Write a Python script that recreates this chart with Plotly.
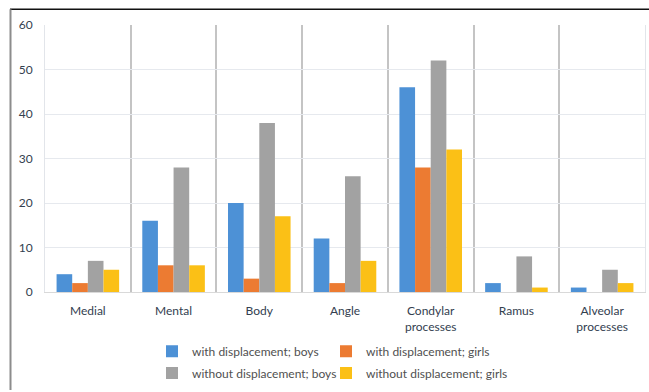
import plotly.graph_objects as go

# Fracture sites (x categories)
sites = ["Medial", "Mental", "Body", "Angle", "Condylar<br>processes", "Ramus", "Alveolar<br>processes"]

# Counts per group
with_disp_boys = [4, 16, 20, 12, 46, 2, 1]
with_disp_girls = [2, 6, 3, 2, 28, 0, 0]
without_disp_boys = [7, 28, 38, 26, 52, 8, 5]
without_disp_girls = [5, 6, 17, 7, 32, 1, 2]

y_ticks = [0, 10, 20, 30, 40, 50, 60]

series = [
    ("with displacement; boys", with_disp_boys, "#4d91d6"),
    ("with displacement; girls", with_disp_girls, "#ec7b32"),
    ("without displacement; boys", without_disp_boys, "#a2a2a2"),
    ("without displacement; girls", without_disp_girls, "#fbc016"),
]

FONT = "Lato"
TEXT = "#33404f"
LEGEND_TEXT = "#505050"

# Plot area geometry in pixels, used to place the outer frame and legends
W, H = 649, 392
ML, MR, MT, MB = 45, 4, 25, 97
pw, ph = W - ML - MR, H - MT - MB


def px_x(x):
    return (x - ML) / pw


def px_y(y):
    return (H - MB - y) / ph


# One legend per entry, laid out as a 2 x 2 grid below the axis
legend_ids = ["legend", "legend2", "legend3", "legend4"]
legend_pos = [(152, 355), (326, 355), (152, 377), (326, 377)]

fig = go.Figure()
for (name, vals, color), lg in zip(series, legend_ids):
    fig.add_trace(go.Bar(
        x=sites, y=vals, name=name, legend=lg,
        marker=dict(color=color, line=dict(width=0)),
    ))

legend_layout = {}
for lg, (lx, ly) in zip(legend_ids, legend_pos):
    legend_layout[lg] = dict(
        orientation="h", xanchor="left", yanchor="middle",
        x=px_x(lx), y=px_y(ly),
        font=dict(family=FONT, size=12, color=LEGEND_TEXT),
        bgcolor="rgba(0,0,0,0)",
    )

fig.update_layout(
    width=W, height=H,
    margin=dict(l=ML, r=MR, t=MT, b=MB),
    paper_bgcolor="white", plot_bgcolor="white",
    font=dict(family=FONT, size=12, color=TEXT),
    barmode="group", bargap=0.27, bargroupgap=0.0,
    showlegend=True,
    **legend_layout,
    xaxis=dict(
        type="category", tickson="boundaries", ticks="",
        showgrid=True, gridcolor="#c4c4c4", gridwidth=1.5,
        showline=True, linecolor="#d9d9d9", linewidth=1,
        ticklabelstandoff=8,
        tickfont=dict(family=FONT, size=12, color=TEXT),
        fixedrange=True,
    ),
    yaxis=dict(
        range=[0, 60], tickvals=y_ticks, ticktext=[str(v) for v in y_ticks],
        showgrid=True, gridcolor="#e6e9ee", gridwidth=1,
        zeroline=False, showline=True, mirror=True, linecolor="#e2e5ea", linewidth=1,
        ticks="", ticklabelstandoff=9,
        tickfont=dict(family=FONT, size=12, color=TEXT),
        fixedrange=True,
    ),
    shapes=[
        dict(type="line", xref="paper", yref="paper",
             x0=px_x(10), x1=px_x(W + 2), y0=px_y(9), y1=px_y(9),
             line=dict(color="#111111", width=1.5)),
        dict(type="line", xref="paper", yref="paper",
             x0=px_x(10.5), x1=px_x(10.5), y0=px_y(9), y1=px_y(H + 2),
             line=dict(color="#8c8c8c", width=2)),
    ],
)

fig.write_html("out.html")
